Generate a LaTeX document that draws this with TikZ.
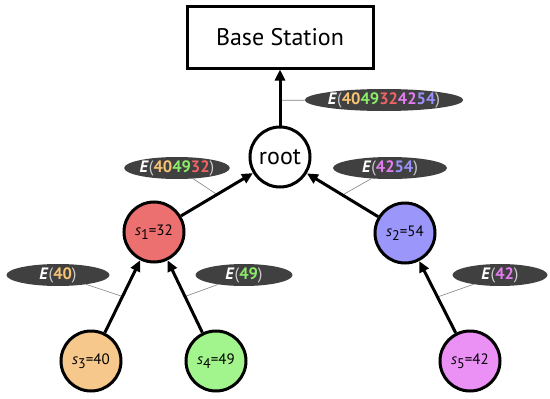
\documentclass[tikz,border=0pt]{standalone}
\usepackage{fontspec}
\setmainfont{PT Sans}
\usepackage{xcolor}
\usepackage{tikz}
\usetikzlibrary{arrows.meta,shapes.geometric}
\definecolor{redS}{RGB}{236,112,112}
\definecolor{blueS}{RGB}{155,150,250}
\definecolor{orangeS}{RGB}{246,200,140}
\definecolor{greenS}{RGB}{162,245,140}
\definecolor{pinkS}{RGB}{235,145,245}
\definecolor{redT}{RGB}{242,100,100}
\definecolor{blueT}{RGB}{155,145,252}
\definecolor{orangeT}{RGB}{248,195,115}
\definecolor{greenT}{RGB}{140,235,105}
\definecolor{pinkT}{RGB}{228,125,242}
\definecolor{tagbg}{RGB}{64,64,64}
\definecolor{parens}{RGB}{205,205,205}
\newcommand{\sid}[1]{\textit{s}\raisebox{-0.55ex}{\fontsize{14}{14}\selectfont #1}}
\newcommand{\enc}[1]{\textit{E}{\mdseries\color{parens}(}#1{\mdseries\color{parens})}}

\begin{document}
\begin{tikzpicture}[x=1pt, y=-1pt,
  sensor/.style={circle, draw=black, line width=3pt, minimum size=60pt, inner sep=0pt,
    font=\fontsize{15}{17}\selectfont},
  link/.style={line width=3pt, -{Triangle[length=11pt,width=10pt]}},
  tag/.style={ellipse, fill=tagbg, text=white, inner sep=0pt, minimum height=22pt,
    font=\fontsize{16.5}{18}\selectfont\bfseries},
  pinline/.style={gray, line width=0.6pt}]
\useasboundingbox (0,0) rectangle (550,399);
% ---- nodes
\node[draw=black, line width=3pt, minimum width=186pt, minimum height=62pt,
  font=\fontsize{24}{27}\selectfont] (bs) at (280,37) {Base Station};
\node[sensor, font=\fontsize{24}{27}\selectfont] (root) at (280,157) {root};
\node[sensor, fill=redS] (s1) at (154,232) {\sid{1}=32};
\node[sensor, fill=blueS] (s2) at (405,233) {\sid{2}=54};
\node[sensor, fill=orangeS] (s3) at (91,361) {\sid{3}=40};
\node[sensor, fill=greenS] (s4) at (216,361) {\sid{4}=49};
\node[sensor, fill=pinkS] (s5) at (470,361) {\sid{5}=42};
% ---- labels
\node[tag, minimum width=141pt] (e0) at (384,100)
  {\enc{{\color{orangeT}40}{\color{greenT}49}{\color{redT}32}{\color{pinkT}42}{\color{blueT}54}}};
\node[tag, minimum width=100pt] (e1) at (177,168)
  {\enc{{\color{orangeT}40}{\color{greenT}49}{\color{redT}32}}};
\node[tag, minimum width=114pt] (e2) at (390,168)
  {\enc{{\color{pinkT}42}{\color{blueT}54}}};
\node[tag, minimum width=103pt] (e3) at (58,275) {\enc{\color{orangeT}40}};
\node[tag, minimum width=97pt] (e4) at (244,275) {\enc{\color{greenT}49}};
\node[tag, minimum width=95pt] (e5) at (500,275) {\enc{\color{pinkT}42}};
% ---- links
\path (root) -- coordinate[pos=0.45] (m0) (bs);
\path (s1) -- coordinate[pos=0.5] (m1) (root);
\path (s2) -- coordinate[pos=0.5] (m2) (root);
\path (s3) -- coordinate[pos=0.5] (m3) (s1);
\path (s4) -- coordinate[pos=0.5] (m4) (s1);
\path (s5) -- coordinate[pos=0.5] (m5) (s2);
\foreach \m/\e in {m0/e0,m1/e1,m2/e2,m3/e3,m4/e4,m5/e5}
  \draw[pinline] (\m) -- (\e);
\draw[link] (root) -- (bs);
\draw[link] (s1) -- (root);
\draw[link] (s2) -- (root);
\draw[link] (s3) -- (s1);
\draw[link] (s4) -- (s1);
\draw[link] (s5) -- (s2);
\end{tikzpicture}
\end{document}
